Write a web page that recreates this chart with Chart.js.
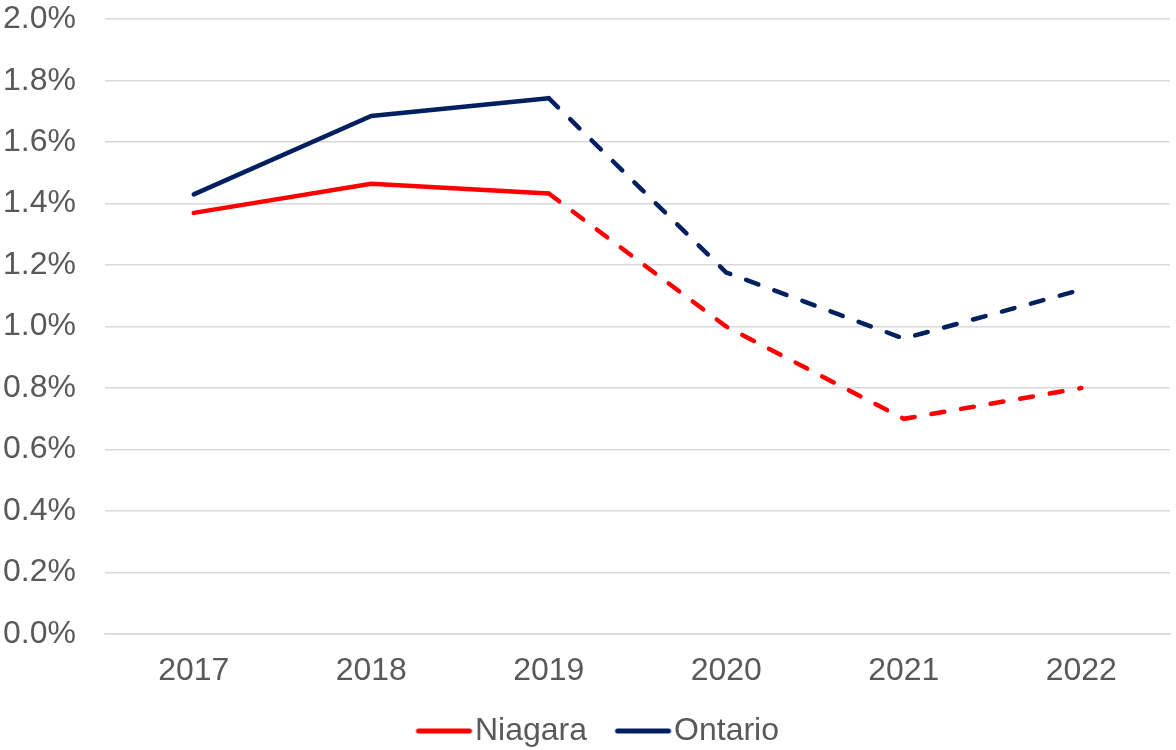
<!DOCTYPE html>
<html lang="en">

<head>
  <meta charset="UTF-8">
  <title>Niagara vs Ontario</title>
  <style>
    body {
      margin: 0;
      background-color: #ffffff;
    }

    #wrap {
      width: 1176px;
      height: 750px;
    }
  </style>
</head>

<body>
  <div id="wrap"><canvas id="myChart"></canvas></div>
  <script src="https://cdn.jsdelivr.net/npm/chart.js@4.4.0/dist/chart.umd.min.js"></script>
  <script>
    // data
    const years = ['2017', '2018', '2019', '2020', '2021', '2022']
    const niagara = [1.37, 1.465, 1.433, 1.0, 0.70, 0.80]
    const ontario = [1.43, 1.685, 1.743, 1.176, 0.961, 1.12]
    const dashFrom = 2 // segments after 2019 are dashed

    const textColor = '#595959'
    const gridColor = '#d9d9d9'
    const font = { family: "'Liberation Sans', Arial, sans-serif", size: 32 }

    const dashed = ctx => ctx.p0DataIndex >= dashFrom ? [13, 17] : undefined

    // legend swatch: a line sitting right next to its label
    const swatch = color => {
      const c = document.createElement('canvas')
      c.width = 72
      c.height = 6
      const g = c.getContext('2d')
      g.strokeStyle = color
      g.lineWidth = 5
      g.lineCap = 'round'
      g.beginPath()
      g.moveTo(17, 3)
      g.lineTo(68, 3)
      g.stroke()
      return c
    }

    const makeSet = (label, data, color) => ({
      label: label,
      data: data,
      borderColor: color,
      backgroundColor: color,
      borderWidth: 4.5,
      borderCapStyle: 'round',
      pointRadius: 0,
      pointStyle: swatch(color),
      tension: 0,
      segment: { borderDash: dashed }
    })

    // legend in the original sits a little right of centre
    const shiftLegend = {
      id: 'shiftLegend',
      afterLayout: chart => {
        chart.legend.left += 11
        chart.legend.right += 11
      }
    }

    const ctx = document.getElementById('myChart').getContext('2d')
    const myChart = new Chart(ctx, {
      type: 'line',
      data: {
        labels: years,
        datasets: [
          makeSet('Niagara', niagara, '#ff0000'),
          makeSet('Ontario', ontario, '#002060')
        ]
      },
      plugins: [shiftLegend],
      options: {
        responsive: true,
        maintainAspectRatio: false,
        animation: false,
        layout: { padding: { left: 3, right: 6, top: 0, bottom: -7 } },
        plugins: {
          tooltip: { enabled: false },
          legend: {
            position: 'bottom',
            labels: {
              color: textColor,
              font: font,
              usePointStyle: true,
              pointStyleWidth: 43,
              padding: 28
            }
          }
        },
        scales: {
          x: {
            offset: true,
            grid: { display: false },
            border: { color: gridColor, width: 1.5 },
            ticks: { color: textColor, font: font, padding: 10 },
            afterFit: s => { s.height = 53 }
          },
          y: {
            min: 0,
            max: 2.0,
            border: { display: false },
            grid: { color: gridColor, lineWidth: 1.5, drawTicks: false },
            ticks: {
              stepSize: 0.2,
              color: textColor,
              font: font,
              padding: 0,
              crossAlign: 'far',
              callback: v => v.toFixed(1) + '%'
            },
            afterFit: s => { s.width = 102 }
          }
        }
      }
    })
  </script>
</body>

</html>
